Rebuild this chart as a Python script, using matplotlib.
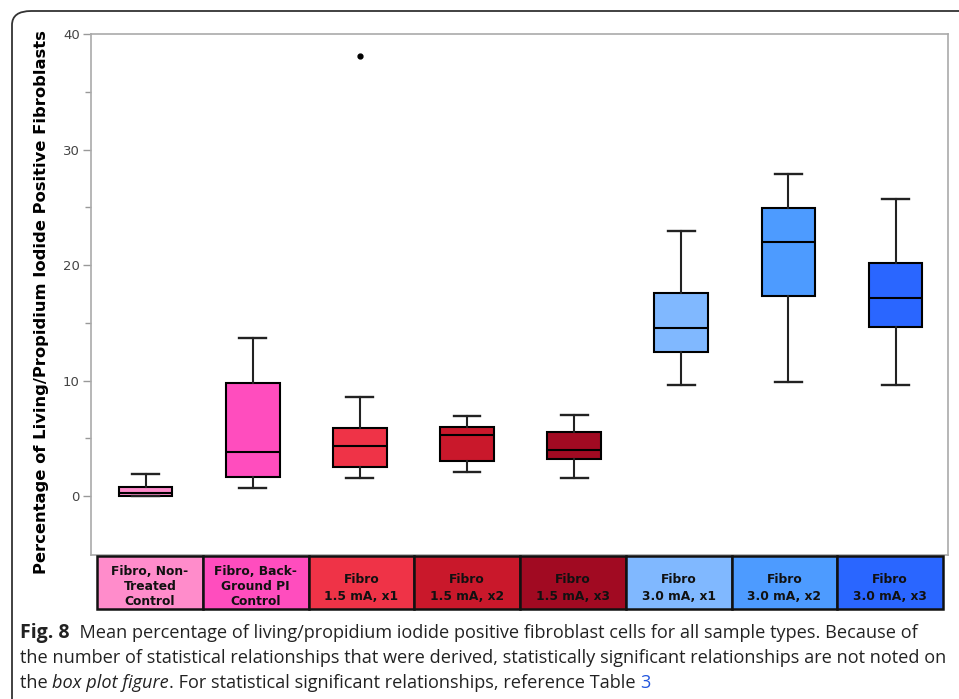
import matplotlib
matplotlib.use("Agg")
import matplotlib.pyplot as plt
from matplotlib.patches import Rectangle, FancyBboxPatch

# ---- data ----
categories = ["Fibro, Non-\nTreated\nControl", "Fibro, Back-\nGround PI\nControl",
              "Fibro\n1.5 mA, x1", "Fibro\n1.5 mA, x2", "Fibro\n1.5 mA, x3",
              "Fibro\n3.0 mA, x1", "Fibro\n3.0 mA, x2", "Fibro\n3.0 mA, x3"]
whislo = [0.0, 0.72, 1.56, 2.07, 1.56, 9.65, 9.88, 9.65]
q1 = [0.05, 1.67, 2.48, 3.02, 3.17, 12.5, 17.35, 14.6]
med = [0.3, 3.78, 4.3, 5.33, 4.0, 14.58, 21.98, 17.14]
q3 = [0.8, 9.77, 5.88, 5.96, 5.56, 17.55, 24.9, 20.17]
whishi = [1.87, 13.66, 8.62, 6.94, 7.03, 22.93, 27.86, 25.76]
outliers = [[], [], [38.1], [], [], [], [], []]
colors = ["#FF8CCB", "#FF4DBE", "#EF3347", "#C9182B", "#A10A22",
          "#80B8FF", "#4D9BFF", "#2A66FF"]
yticks = [0, 10, 20, 30, 40]
ylabel = "Percentage of Living/Propidium Iodide Positive Fibroblasts"

W, H = 959, 699
fig = plt.figure(figsize=(W / 100, H / 100), dpi=100)

def fx(px):
    return px / W

def fy(py):
    return 1 - py / H

# outer rounded frame
frame = FancyBboxPatch((fx(12), fy(720)), fx(990) - fx(12), fy(11) - fy(720),
                       boxstyle="round,pad=0,rounding_size=0.02",
                       transform=fig.transFigure, fill=False,
                       edgecolor="#333333", linewidth=1.3, clip_on=False)
fig.patches.append(frame)

ax = fig.add_axes([fx(91), fy(555), fx(948) - fx(91), fy(34) - fy(555)])
stats = []
for i in range(len(categories)):
    stats.append(dict(whislo=whislo[i], q1=q1[i], med=med[i], q3=q3[i],
                      whishi=whishi[i], fliers=outliers[i]))
bp = ax.bxp(stats, positions=range(len(categories)), widths=0.5,
            patch_artist=True, showfliers=True,
            boxprops=dict(edgecolor="black", linewidth=1.5),
            medianprops=dict(color="black", linewidth=1.5),
            whiskerprops=dict(color="#222222", linewidth=1.5),
            capprops=dict(color="#222222", linewidth=1.7),
            flierprops=dict(marker="o", markersize=3.5, markerfacecolor="black",
                            markeredgecolor="black"))
for patch, c in zip(bp["boxes"], colors):
    patch.set_facecolor(c)

ax.set_xlim(-0.51, 7.49)
ax.set_ylim(-5.1, 40)
ax.set_yticks(yticks)
ax.set_yticks([5, 15, 25, 35], minor=True)
ax.set_xticks([])
ax.tick_params(axis="y", which="major", length=6, width=1, color="#999999",
               labelsize=9.5, labelcolor="#444444", pad=2)
ax.tick_params(axis="y", which="minor", length=4, width=1, color="#999999")
for s in ax.spines.values():
    s.set_color("#aaaaaa")
    s.set_linewidth(1.2)

fig.text(fx(42), fy(302), ylabel, rotation=90, ha="center", va="center",
         fontsize=11.8, fontweight="bold", family="DejaVu Sans")

# category label boxes
lab = fig.add_axes([fx(97), fy(609), fx(943) - fx(97), fy(556) - fy(609)])
lab.set_xlim(0, len(categories))
lab.set_ylim(0, 1)
lab.axis("off")
for i, (name, c) in enumerate(zip(categories, colors)):
    lab.add_patch(Rectangle((i, 0), 1, 1, facecolor=c, edgecolor="#111111",
                            linewidth=1.8, clip_on=False))
    nlines = name.count("\n") + 1
    lab.text(i + 0.5, 0.43 if nlines == 3 else 0.40, name, ha="center",
             va="center", fontsize=8.8, fontweight="bold",
             linespacing=1.22 if nlines == 3 else 1.45, color="#111111")

# caption
renderer = fig.canvas.get_renderer()
cap_family = ["Open Sans", "DejaVu Sans"]

def write_line(x_px, y_px, parts):
    x = x_px
    for txt, kw in parts:
        opts = dict(ha="left", va="center", fontsize=13.1, family=cap_family,
                    color="#222222")
        opts.update(kw)
        t = fig.text(fx(x), fy(y_px), txt, **opts)
        bb = t.get_window_extent(renderer=renderer)
        x += bb.width

write_line(20, 633, [("Fig. 8", dict(fontweight="bold", fontsize=14)),
                     ("  Mean percentage of living/propidium iodide positive fibroblast cells for all sample types. Because of", {})])
write_line(20, 658, [("the number of statistical relationships that were derived, statistically significant relationships are not noted on", {})])
write_line(20, 683, [("the ", {}), ("box plot figure", dict(style="italic")),
                     (". For statistical significant relationships, reference Table ", {}),
                     ("3", dict(color="#2255dd"))])

fig.savefig("out.png", dpi=100)
